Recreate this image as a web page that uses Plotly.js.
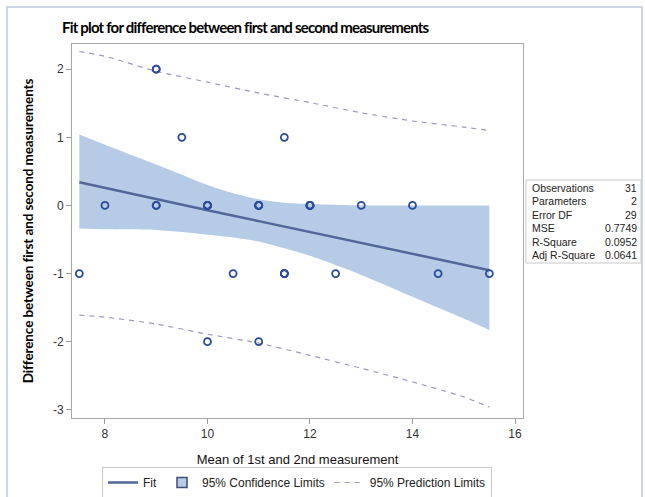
<!DOCTYPE html>
<html>
<head>
<meta charset="utf-8">
<script src="https://cdn.plot.ly/plotly-3.0.1.min.js"></script>
<style>
html,body{margin:0;padding:0;background:#fff;}
#chart{width:645px;height:497px;}
#chart .gtitle{letter-spacing:-0.8px;}
#chart .ytitle{letter-spacing:-0.1px;}
</style>
</head>
<body>
<div id="chart"></div>
<script>
// Observed points (duplicates included)
var obsX = [9, 9, 9.5, 11.5, 8, 9, 10, 10, 10, 11, 11, 11, 12, 12, 12, 13, 14,
            7.5, 10.5, 11.5, 11.5, 11.5, 12.5, 14.5, 15.5, 10, 11, 10, 11, 12, 9];
var obsY = [2, 2, 1, 1, 0, 0, 0, 0, 0, 0, 0, 0, 0, 0, 0, 0, 0,
            -1, -1, -1, -1, -1, -1, -1, -1, -2, -2, 0, 0, 0, 0];

// Fit line
var fitX = [7.5, 9, 10, 11, 12, 13, 14, 15, 15.5];
var fitY = [0.34, 0.09, -0.07, -0.23, -0.39, -0.54, -0.70, -0.86, -0.95];

// 95% confidence band
var clX     = [7.5, 8, 9, 9.5, 10, 10.5, 11, 11.5, 12, 13, 14, 15, 15.5];
var clUpper = [1.04, 0.89, 0.60, 0.45, 0.30, 0.18, 0.09, 0.04, 0.02, 0.0, 0.0, 0.0, 0.0];
var clLower = [-0.34, -0.35, -0.36, -0.39, -0.43, -0.47, -0.53, -0.63, -0.74, -1.02, -1.34, -1.66, -1.83];

// 95% prediction limits
var plX     = [7.5, 8, 9, 10, 11, 12, 13, 14, 15, 15.5];
var plUpper = [2.26, 2.19, 1.97, 1.81, 1.65, 1.51, 1.36, 1.24, 1.15, 1.10];
var plLower = [-1.61, -1.64, -1.74, -1.89, -2.02, -2.20, -2.39, -2.59, -2.81, -2.96];

// Fit statistics table
var statLabels = ["Observations", "Parameters", "Error DF", "MSE", "R-Square", "Adj R-Square"];
var statValues = ["31", "2", "29", "0.7749", "0.0952", "0.0641"];

var xTicks = [8, 10, 12, 14, 16];
var xTickText = ["8", "10", "12", "14", "16"];
var yTicks = [-3, -2, -1, 0, 1, 2];
var yTickText = ["-3", "-2", "-1", "0", "1", "2"];

var markerColor = '#2b4c9a';
var fitColor = '#51679a';
var bandColor = '#b6cbe6';
var plColor = '#9d98c6';

var traces = [
  {x: clX, y: clUpper, type: 'scatter', mode: 'lines', line: {width: 0, color: bandColor, shape: 'spline', smoothing: 0.8},
   showlegend: false, hoverinfo: 'skip'},
  {x: clX, y: clLower, type: 'scatter', mode: 'lines', fill: 'tonexty', fillcolor: bandColor,
   line: {width: 0, color: bandColor, shape: 'spline', smoothing: 0.8}, showlegend: false, hoverinfo: 'skip'},
  {x: plX, y: plUpper, type: 'scatter', mode: 'lines',
   line: {color: plColor, width: 1.2, dash: '5px,5px', shape: 'spline', smoothing: 0.6},
   name: '95% Prediction Limits', legendgroup: 'pl', legendrank: 3},
  {x: plX, y: plLower, type: 'scatter', mode: 'lines',
   line: {color: plColor, width: 1.2, dash: '5px,5px', shape: 'spline', smoothing: 0.6},
   name: '95% Prediction Limits', legendgroup: 'pl', showlegend: false},
  {x: fitX, y: fitY, type: 'scatter', mode: 'lines',
   line: {color: fitColor, width: 2.5}, name: 'Fit', legendrank: 1},
  {x: obsX, y: obsY, type: 'scatter', mode: 'markers',
   marker: {symbol: 'circle-open', size: 7, color: markerColor, line: {width: 1.8, color: markerColor}},
   showlegend: false},
  // legend entry for the confidence band
  {x: [null], y: [null], type: 'scatter', mode: 'markers', name: '95% Confidence Limits', legendrank: 2,
   marker: {symbol: 'square', size: 10, color: bandColor, line: {width: 1.5, color: '#3d4f7a'}}}
];

// Pixel helpers for the plot area (layout only)
var L = 72, R = 523, T = 44, B = 418;
function px(x){ return (x - L) / (R - L); }
function py(y){ return (B - y) / (B - T); }

var statFont = {family: 'Arial, Liberation Sans, sans-serif', size: 10.5, color: '#222'};
var annotations = [];
for (var i = 0; i < statLabels.length; i++) {
  var yy = 187.5 + i * 13.5;
  annotations.push({xref: 'paper', yref: 'paper', x: px(531), y: py(yy), xanchor: 'left', yanchor: 'middle',
    text: statLabels[i], showarrow: false, font: statFont, borderpad: 0});
  annotations.push({xref: 'paper', yref: 'paper', x: px(638), y: py(yy), xanchor: 'right', yanchor: 'middle',
    text: statValues[i], showarrow: false, font: statFont, borderpad: 0});
}

var shapes = [
  {type: 'rect', xref: 'paper', yref: 'paper', x0: px(526), x1: px(641), y0: py(180), y1: py(263),
   line: {color: '#c8c8c8', width: 1}, fillcolor: 'rgba(0,0,0,0)'},
  {type: 'rect', xref: 'paper', yref: 'paper', x0: px(7), x1: px(642), y0: py(7), y1: py(520),
   line: {color: '#b9c9dc', width: 1.5}, fillcolor: 'rgba(0,0,0,0)'}
];

var axisFont = {family: 'Arial, Liberation Sans, sans-serif', size: 12, color: '#333'};
var titleFamily = 'Lato, "Open Sans", sans-serif';

var layout = {
  width: 645, height: 497,
  margin: {l: L, r: 645 - R, t: T, b: 497 - B, pad: 0, autoexpand: false},
  paper_bgcolor: '#fff', plot_bgcolor: '#fff',
  title: {text: '<b>Fit plot for difference between first and second measurements</b>',
          x: 62 / 645, xanchor: 'left', xref: 'container', y: 1 - 28 / 497, yanchor: 'middle', yref: 'container',
          font: {family: titleFamily, size: 15, color: '#000'}},
  xaxis: {range: [7.357, 16.156], tickvals: xTicks, ticktext: xTickText, ticks: 'outside', ticklen: 5, tickcolor: '#999',
          showline: true, mirror: true, linecolor: '#a8a8a8', linewidth: 1, showgrid: false, zeroline: false,
          tickfont: axisFont, automargin: false,
          title: {text: 'Mean of 1st and 2nd measurement', font: {family: 'Arial, Liberation Sans, sans-serif', size: 13, color: '#111'}, standoff: 14}},
  yaxis: {range: [-3.12, 2.37], tickvals: yTicks, ticktext: yTickText, ticks: 'outside', ticklen: 5, tickcolor: '#999',
          showline: true, mirror: true, linecolor: '#a8a8a8', linewidth: 1, showgrid: false, zeroline: false,
          tickfont: axisFont, automargin: false,
          title: {text: '<b>Difference between first and second measurements</b>', font: {family: titleFamily, size: 13.5, color: '#000'}, standoff: 16}},
  showlegend: true,
  legend: {orientation: 'h', x: px(297), xanchor: 'center', y: py(482.5), yanchor: 'middle',
           bordercolor: '#c8c8c8', borderwidth: 1, bgcolor: '#fff',
           font: {family: 'Arial, Liberation Sans, sans-serif', size: 12, color: '#222'},
           itemwidth: 30, traceorder: 'normal'},
  annotations: annotations,
  shapes: shapes
};

Plotly.newPlot('chart', traces, layout, {displayModeBar: false, staticPlot: true});
</script>
</body>
</html>
